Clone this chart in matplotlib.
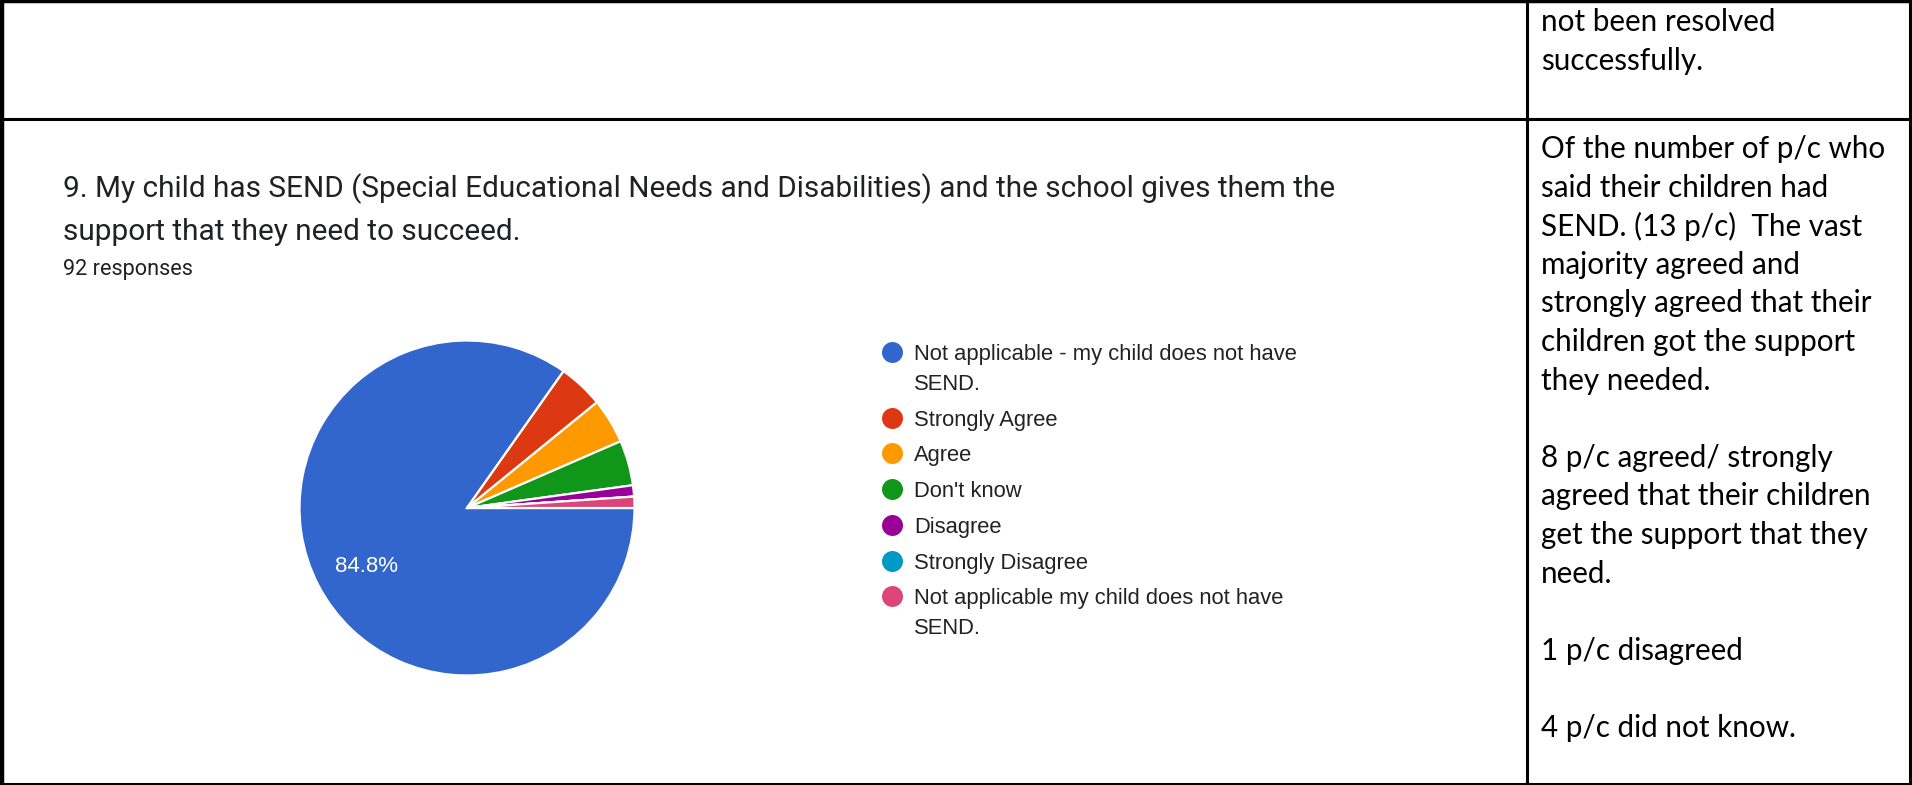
import matplotlib
matplotlib.use("Agg")
import matplotlib.pyplot as plt

# Survey responses for question 9 (92 responses in total)
labels = [
    "Not applicable - my child does not have\nSEND.",
    "Strongly Agree",
    "Agree",
    "Don't know",
    "Disagree",
    "Strongly Disagree",
    "Not applicable my child does not have\nSEND.",
]
counts = [78, 4, 4, 4, 1, 0, 1]
colors = ["#3366CC", "#DC3912", "#FF9900", "#109618", "#990099", "#0099C6", "#DD4477"]

question_lines = [
    "9. My child has SEND (Special Educational Needs and Disabilities) and the school gives them the",
    "support that they need to succeed.",
]
responses_note = "92 responses"

top_comment = ["not been resolved", "successfully."]
comment_lines = [
    "Of the number of p/c who",
    "said their children had",
    "SEND. (13 p/c)  The vast",
    "majority agreed and",
    "strongly agreed that their",
    "children got the support",
    "they needed.",
    "",
    "8 p/c agreed/ strongly",
    "agreed that their children",
    "get the support that they",
    "need.",
    "",
    "1 p/c disagreed",
    "",
    "4 p/c did not know.",
]

W, H = 1912, 785
fig = plt.figure(figsize=(W / 100, H / 100), dpi=100)
fig.patch.set_facecolor("white")

# Overlay axes in pixel coordinates for the table grid and text
base = fig.add_axes([0, 0, 1, 1])
base.set_xlim(0, W)
base.set_ylim(H, 0)
base.axis("off")

lw = 2.2
base.plot([2, 2], [0, H], color="black", lw=3.2)
base.plot([W - 1.5, W - 1.5], [0, H], color="black", lw=2.2)
base.plot([0, W], [1, 1], color="black", lw=2.5)
base.plot([0, W], [H - 1.5, H - 1.5], color="black", lw=lw)
base.plot([0, W], [118.5, 118.5], color="black", lw=lw)
base.plot([1527.5, 1527.5], [0, H], color="black", lw=lw)

# Question header
for i, line in enumerate(question_lines):
    base.text(63, 197 + i * 43, line, fontfamily="Roboto", fontsize=21.4,
              color="#202124", va="baseline", ha="left")
base.text(63, 275, responses_note, fontfamily="Roboto", fontsize=15.6,
          color="#202124", va="baseline", ha="left")

# Comment column
for i, line in enumerate(top_comment):
    base.text(1541, 22 + i * 38.6, line, fontfamily="Lato", fontsize=21.3,
              color="black", va="center", ha="left")
for i, line in enumerate(comment_lines):
    base.text(1541, 149 + i * 38.6, line, fontfamily="Lato", fontsize=21.3,
              color="black", va="center", ha="left")

# Pie chart
cx, cy, r = 467, 508, 167.5
ax = fig.add_axes([(cx - r) / W, (H - cy - r) / H, 2 * r / W, 2 * r / H])
ax.pie(counts, colors=colors, startangle=0, counterclock=False,
       wedgeprops=dict(edgecolor="white", linewidth=1.6))
ax.set_xlim(-1, 1)
ax.set_ylim(-1, 1)
ax.set_aspect("equal")
share = 100 * counts[0] / sum(counts)
ax.text(-0.6, -0.35, f"{share:.1f}%", color="white", fontfamily="Liberation Sans",
        fontsize=16, ha="center", va="center")

# Legend
y = 352
for lab, col in zip(labels, colors):
    base.scatter([892], [y], s=228, color=col, zorder=3, linewidths=0)
    for j, part in enumerate(lab.split("\n")):
        base.text(914, y + 8 + j * 30, part, fontfamily="Liberation Sans",
                  fontsize=15.8, color="#222222", va="baseline", ha="left")
    nlines = lab.count("\n") + 1
    y += 35.7 + (nlines - 1) * 30

fig.savefig("out.png", dpi=100, facecolor="white")
